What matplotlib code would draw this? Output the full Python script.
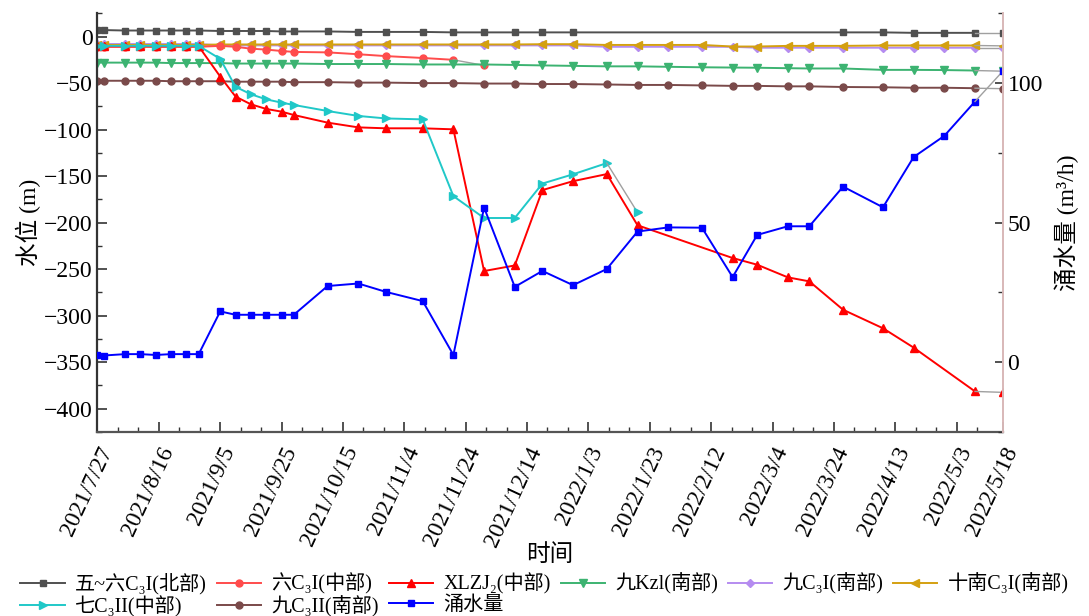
import numpy as np
import pandas as pd
import matplotlib
matplotlib.use('Agg')
import matplotlib.pyplot as plt
import matplotlib.dates as mdates
from matplotlib.ticker import FixedLocator, FuncFormatter, MultipleLocator

plt.rcParams['font.family'] = ['Liberation Serif', 'DejaVu Serif', 'Noto Sans CJK SC']
plt.rcParams['axes.unicode_minus'] = True

nan = np.nan

# ── Data ─────────────────────────────────────────────────────────────────────
dates = ['2021-07-27', '2021-07-29', '2021-08-05', '2021-08-10', '2021-08-15',
         '2021-08-20', '2021-08-25', '2021-08-29', '2021-09-05', '2021-09-10',
         '2021-09-15', '2021-09-20', '2021-09-25', '2021-09-29', '2021-10-10',
         '2021-10-20', '2021-10-29', '2021-11-10', '2021-11-20', '2021-11-30',
         '2021-12-10', '2021-12-19', '2021-12-29', '2022-01-09', '2022-01-19',
         '2022-01-29', '2022-02-09', '2022-02-19', '2022-02-27', '2022-03-09',
         '2022-03-16', '2022-03-27', '2022-04-09', '2022-04-19', '2022-04-29',
         '2022-05-09', '2022-05-18']

# water level (m), left axis
wu_liu_c3i_north = [7, 7, 6.5, 6.5, 6.5, 6.5, 6.5, 6.5, 6, 6, 6, 6, 5.5, 5.5, 5.5,
                    5, 5, 5, 4.5, 4.5, 4.5, 4.5, 4.5, nan, nan, nan, nan, nan, nan,
                    nan, nan, 4.5, 4.5, 4, 4, 4, 4]
liu_c3i_mid = [-11, -11, -11, -11, -11, -11, -11, -11, -10, -11, -13, -14, -15.5,
               -16.5, -17, -19, -21, -23, -25, -31] + [nan] * 17
xlzj2_mid = [-10.5, -10.5, -10.5, -10.5, -10.5, -10.5, -10.5, -10.5, -43, -64.5,
             -72.8, -77.8, -80.7, -84.3, -92.5, -97.6, -98.6, -98.6, -99.7, -252,
             -246, -165, -155.4, -147.8, -202.8, nan, nan, -238, -245.2, -258.8,
             -263.1, -293.6, -313.5, -334.3, nan, -381.4, -382.4]
jiu_kzl_south = [-28, -28, -28, -28, -28, -28.5, -28.5, -28.5, -28.5, -29, -29, -29,
                 -29, -29, -29.5, -29.5, -29.5, -30, -30, -30, -30.5, -31, -31.5,
                 -32, -32, -32.5, -33, -33.3, -33.5, -34, -34.3, -34.3, -35.8,
                 -35.8, -36, -36.5, -37.2]
jiu_c3i_south = [-8, -8, -8, -8, -8, -8, -8, -8, -9.5, -9.5, -9.5, -9.5, -9.5, -9.5,
                 -9.5, -9.5, -9.5, -9.5, -9.5, -9.5, -9.5, -9.5, -9.5, -11, -11, -11,
                 -11, -11, -12, -12, -12, -12, -12, -12, -12, -12, -12]
shinan_c3i_south = [-9, -9, -9, -9, -9, -9, -9, -9, -8.5, -8.5, -8.5, -8.5, -8.5,
                    -8.5, -8.5, -8.5, -8.5, -8.5, -8.5, -8.5, -8.5, -8.2, -8.2, -9,
                    -9, -9, -9, -10.7, -10.7, -10, -10, -10, -9.6, -9.6, -9.6, -9.6,
                    -10]
qi_c3ii_mid = [-10, -10, -10, -10, -10, -10, -10, -10, -24, -54, -62, -67.5, -71,
               -73.5, -80, -85.3, -88, -89, -171.5, -195, -195, -158, -148, -136,
               -189] + [nan] * 12
jiu_c3ii_south = [-47.5, -47.5, -47.5, -47.5, -47.5, -48, -48, -48, -48, -48.5,
                  -48.5, -48.5, -48.5, -49, -49, -49.5, -49.5, -50, -50, -50.5,
                  -50.5, -51, -51, -51.5, -52, -52, -52.5, -53, -53, -53.5, -53.5,
                  -54.2, -54.5, -55, -55, -55.5, -56]

# inflow (m3/h), right axis
inflow = [2.6, 2.4, 2.9, 2.9, 2.6, 2.9, 2.9, 2.9, 18.2, 17, 17, 17, 17, 17, 27.3,
          28.2, 25.2, 21.9, 2.6, 55.4, 27, 32.7, 27.6, 33.4, 46.8, 48.3, 48.2,
          30.5, 45.6, 48.7, 48.7, 62.9, 55.5, 73.5, 81.1, 93.4, 104.2]

tick_dates = ['2021-07-27', '2021-08-16', '2021-09-05', '2021-09-25', '2021-10-15',
              '2021-11-04', '2021-11-24', '2021-12-14', '2022-01-03', '2022-01-23',
              '2022-02-12', '2022-03-04', '2022-03-24', '2022-04-13', '2022-05-03',
              '2022-05-18']

x = pd.to_datetime(dates)

fig = plt.figure(figsize=(10.89, 6.16), dpi=100)
ax = fig.add_axes([0.0895, 0.2987, 0.8312, 0.6797])
ax2 = ax.twinx()


def draw(axis, vals, color, marker, ms, label):
    v = np.array(vals, dtype=float)
    ok = ~np.isnan(v)
    xs, ys = x[ok], v[ok]
    h, = axis.plot(xs[:-1], ys[:-1], color=color, lw=1.4, marker=marker, ms=ms,
                   mec=color, label=label)
    # last segment drawn as thin grey connector, as in the source figure
    axis.plot(xs[-2:], ys[-2:], color='#a0a0a0', lw=1.0)
    axis.plot(xs[-1:], ys[-1:], ls='none', marker=marker, ms=ms, color=color)
    return h


h1 = draw(ax, wu_liu_c3i_north, '#505050', 's', 5, '五~六C₃I(北部)')
h5 = draw(ax, jiu_c3i_south, '#b58cf0', 'D', 4, '九C₃I(南部)')
h6 = draw(ax, shinan_c3i_south, '#d4a010', '<', 6, '十南C₃I(南部)')
h2 = draw(ax, liu_c3i_mid, '#ff4c4c', 'o', 5, '六C₃I(中部)')
h4 = draw(ax, jiu_kzl_south, '#3cb371', 'v', 6, '九Kzl(南部)')
h8 = draw(ax, jiu_c3ii_south, '#7a4a4a', 'o', 5, '九C₃II(南部)')
h3 = draw(ax, xlzj2_mid, '#ff0000', '^', 6, 'XLZJ₂(中部)')
h7 = draw(ax, qi_c3ii_mid, '#20c8c8', '>', 6, '七C₃II(中部)')
h9 = draw(ax2, inflow, '#0000ff', 's', 5, '涌水量')

# ── Axes ─────────────────────────────────────────────────────────────────────
t0 = mdates.date2num(pd.Timestamp('2021-07-27'))
t1 = mdates.date2num(pd.Timestamp('2022-05-18'))
ax.set_xlim(t0, t1)
ax.set_ylim(-425, 25)
ax2.set_ylim(-25, 125)

ax.xaxis.set_major_locator(FixedLocator(mdates.date2num(pd.to_datetime(tick_dates))))
ax.xaxis.set_minor_locator(FixedLocator(t0 + np.arange(0, 290, 20 / 3)))
ax.xaxis.set_major_formatter(FuncFormatter(
    lambda v, p: (lambda d: f'{d.year}/{d.month}/{d.day}')(mdates.num2date(v))))
ax.yaxis.set_major_locator(MultipleLocator(50))
ax.yaxis.set_minor_locator(MultipleLocator(25))
ax2.yaxis.set_major_locator(MultipleLocator(50))
ax2.yaxis.set_minor_locator(MultipleLocator(25))

for lab in ax.get_xticklabels():
    lab.set_rotation(65)
    lab.set_ha('right')
    lab.set_va('top')
    lab.set_rotation_mode('anchor')

ax.tick_params(axis='both', which='major', direction='in', length=7, width=1.2,
               labelsize=17, color='#333333')
ax.tick_params(axis='both', which='minor', direction='in', length=3.5, width=1.0,
               color='#333333')
ax.tick_params(axis='x', which='major', pad=8)
ax2.tick_params(axis='y', which='major', direction='in', length=6, width=1.2,
                labelsize=17, color='#333333')
ax2.tick_params(axis='y', which='minor', direction='in', length=3.5, width=1.0,
                color='#333333')

for a in (ax, ax2):
    a.spines['top'].set_visible(False)
ax.spines['right'].set_visible(False)
ax2.spines['left'].set_visible(False)
ax2.spines['bottom'].set_visible(False)
ax.spines['left'].set_color('#333333')
ax.spines['left'].set_linewidth(1.6)
ax.spines['bottom'].set_color('#555555')
ax.spines['bottom'].set_linewidth(1.6)
ax2.spines['right'].set_color('#d8b8b8')
ax2.spines['right'].set_linewidth(1.4)

ax.set_ylabel('水位 (m)', fontsize=17, labelpad=2)
ax2.set_ylabel('涌水量 (m³/h)', fontsize=17, labelpad=8)
ax.set_xlabel('时间', fontsize=17, labelpad=-4)

# ── Legend: two rows below the axes ──────────────────────────────────────────
handles = [h1, h7, h2, h8, h3, h9, h4, h5, h6]
fig.legend(handles, [h.get_label() for h in handles], loc='lower center',
           bbox_to_anchor=(0.5, -0.012), ncol=6, frameon=False, fontsize=14.5,
           handlelength=2.2, handletextpad=0.5, columnspacing=0.5,
           labelspacing=0.05, borderaxespad=0.1, borderpad=0.2)

plt.savefig('out.png', dpi=100)
plt.close()
